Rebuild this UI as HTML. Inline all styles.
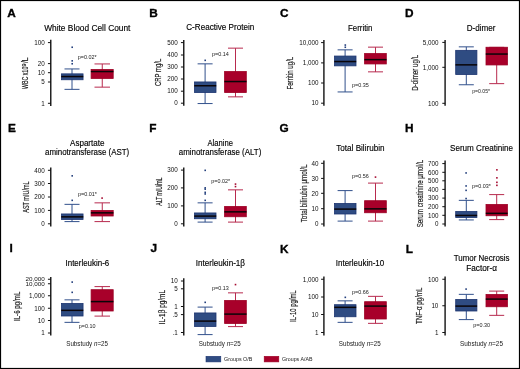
<!DOCTYPE html><html><head><meta charset="utf-8"><style>html,body{margin:0;padding:0;background:#fff}svg{display:block}text{font-family:"Liberation Sans",sans-serif}</style></head><body>
<div style="will-change:transform;width:520px;height:369px"><svg width="520" height="369" viewBox="0 0 520 369">
<rect x="0" y="0" width="520" height="369" fill="#fff"/>
<text x="7.2" y="17" font-size="11.8" font-weight="bold" fill="#000" stroke="#000" stroke-width="0.35">A</text>
<text x="44.2" y="31" font-size="8.8" textLength="86.2" lengthAdjust="spacingAndGlyphs" fill="#000" stroke="#000" stroke-width="0.15">White Blood Cell Count</text>
<line x1="50.75" y1="39.8" x2="50.75" y2="106" stroke="#222" stroke-width="1.5"/>
<line x1="47.95" y1="42.6" x2="50.75" y2="42.6" stroke="#111" stroke-width="1"/>
<text x="34.24" y="44.85" font-size="6.3" textLength="10.51" lengthAdjust="spacingAndGlyphs" fill="#111">100</text>
<line x1="47.95" y1="63.6" x2="50.75" y2="63.6" stroke="#111" stroke-width="1"/>
<text x="37.74" y="65.85" font-size="6.3" textLength="7.01" lengthAdjust="spacingAndGlyphs" fill="#111">20</text>
<line x1="47.95" y1="72.7" x2="50.75" y2="72.7" stroke="#111" stroke-width="1"/>
<text x="37.74" y="74.95" font-size="6.3" textLength="7.01" lengthAdjust="spacingAndGlyphs" fill="#111">10</text>
<line x1="47.95" y1="82" x2="50.75" y2="82" stroke="#111" stroke-width="1"/>
<text x="41.25" y="84.25" font-size="6.3" textLength="3.5" lengthAdjust="spacingAndGlyphs" fill="#111">5</text>
<line x1="47.95" y1="103.3" x2="50.75" y2="103.3" stroke="#111" stroke-width="1"/>
<text x="41.25" y="105.55" font-size="6.3" textLength="3.5" lengthAdjust="spacingAndGlyphs" fill="#111">1</text>
<line x1="72" y1="68.95" x2="72" y2="89.35" stroke="#31508c" stroke-width="1"/>
<line x1="64.5" y1="68.95" x2="79.5" y2="68.95" stroke="#31508c" stroke-width="1"/>
<line x1="64.5" y1="89.35" x2="79.5" y2="89.35" stroke="#31508c" stroke-width="1"/>
<rect x="61.45" y="73.85" width="21.6" height="5.9" fill="#2f4c82" stroke="#1d3570" stroke-width="0.8"/>
<line x1="61.25" y1="76.55" x2="83.25" y2="76.55" stroke="#0a0508" stroke-width="1.5"/>
<rect x="71.4" y="46.45" width="1.6" height="1.6" fill="#233f7c"/>
<rect x="71.4" y="60.05" width="1.6" height="1.6" fill="#233f7c"/>
<rect x="71.4" y="62.95" width="1.6" height="1.6" fill="#233f7c"/>
<line x1="102.25" y1="63.95" x2="102.25" y2="87.15" stroke="#b82a4e" stroke-width="1"/>
<line x1="94.5" y1="63.95" x2="110" y2="63.95" stroke="#b82a4e" stroke-width="1"/>
<line x1="94.5" y1="87.15" x2="110" y2="87.15" stroke="#b82a4e" stroke-width="1"/>
<rect x="91.1" y="69.45" width="22.1" height="9" fill="#a8002a" stroke="#9c0024" stroke-width="0.8"/>
<line x1="90.9" y1="71.55" x2="113.4" y2="71.55" stroke="#0a0508" stroke-width="1.5"/>
<text x="77.7" y="58.7" font-size="5.8" textLength="18.9" lengthAdjust="spacingAndGlyphs" fill="#1a1a1a">p=0.02*</text>
<text transform="translate(28.4,89.1) rotate(-90)" font-size="8.7" textLength="22.5" lengthAdjust="spacingAndGlyphs" fill="#1a1a1a" stroke="#1a1a1a" stroke-width="0.18">WBC x10</text>
<text transform="translate(25.5,66.5) rotate(-90)" font-size="5.4" textLength="3.1" lengthAdjust="spacingAndGlyphs" fill="#1a1a1a" stroke="#1a1a1a" stroke-width="0.18">9</text>
<text transform="translate(28.4,63.1) rotate(-90)" font-size="8.7" textLength="5.7" lengthAdjust="spacingAndGlyphs" fill="#1a1a1a" stroke="#1a1a1a" stroke-width="0.18">/L</text>
<text x="149.3" y="16.8" font-size="11.8" font-weight="bold" fill="#000" stroke="#000" stroke-width="0.35">B</text>
<text x="186.25" y="30.2" font-size="8.8" textLength="68" lengthAdjust="spacingAndGlyphs" fill="#000" stroke="#000" stroke-width="0.15">C-Reactive Protein</text>
<line x1="183.75" y1="40" x2="183.75" y2="105.7" stroke="#222" stroke-width="1.5"/>
<line x1="180.95" y1="42.6" x2="183.75" y2="42.6" stroke="#111" stroke-width="1"/>
<text x="167.24" y="44.85" font-size="6.3" textLength="10.51" lengthAdjust="spacingAndGlyphs" fill="#111">500</text>
<line x1="180.95" y1="55" x2="183.75" y2="55" stroke="#111" stroke-width="1"/>
<text x="167.24" y="57.25" font-size="6.3" textLength="10.51" lengthAdjust="spacingAndGlyphs" fill="#111">400</text>
<line x1="180.95" y1="67" x2="183.75" y2="67" stroke="#111" stroke-width="1"/>
<text x="167.24" y="69.25" font-size="6.3" textLength="10.51" lengthAdjust="spacingAndGlyphs" fill="#111">300</text>
<line x1="180.95" y1="79" x2="183.75" y2="79" stroke="#111" stroke-width="1"/>
<text x="167.24" y="81.25" font-size="6.3" textLength="10.51" lengthAdjust="spacingAndGlyphs" fill="#111">200</text>
<line x1="180.95" y1="91.2" x2="183.75" y2="91.2" stroke="#111" stroke-width="1"/>
<text x="167.24" y="93.45" font-size="6.3" textLength="10.51" lengthAdjust="spacingAndGlyphs" fill="#111">100</text>
<line x1="180.95" y1="103.2" x2="183.75" y2="103.2" stroke="#111" stroke-width="1"/>
<text x="174.25" y="105.45" font-size="6.3" textLength="3.5" lengthAdjust="spacingAndGlyphs" fill="#111">0</text>
<line x1="205.1" y1="63.85" x2="205.1" y2="103.55" stroke="#31508c" stroke-width="1"/>
<line x1="197.6" y1="63.85" x2="212.6" y2="63.85" stroke="#31508c" stroke-width="1"/>
<line x1="197.6" y1="103.55" x2="212.6" y2="103.55" stroke="#31508c" stroke-width="1"/>
<rect x="194.5" y="81.95" width="21.5" height="10.6" fill="#2f4c82" stroke="#1d3570" stroke-width="0.8"/>
<line x1="194.3" y1="85.75" x2="216.2" y2="85.75" stroke="#0a0508" stroke-width="1.5"/>
<rect x="204.4" y="59.55" width="1.6" height="1.6" fill="#233f7c"/>
<line x1="235.5" y1="48.15" x2="235.5" y2="96.85" stroke="#b82a4e" stroke-width="1"/>
<line x1="228" y1="48.15" x2="243" y2="48.15" stroke="#b82a4e" stroke-width="1"/>
<line x1="228" y1="96.85" x2="243" y2="96.85" stroke="#b82a4e" stroke-width="1"/>
<rect x="224.6" y="71.55" width="21.7" height="21" fill="#a8002a" stroke="#9c0024" stroke-width="0.8"/>
<line x1="224.4" y1="81.55" x2="246.5" y2="81.55" stroke="#0a0508" stroke-width="1.5"/>
<text x="212" y="55.5" font-size="5.8" textLength="16.9" lengthAdjust="spacingAndGlyphs" fill="#1a1a1a">p=0.14</text>
<text transform="translate(161.4,86) rotate(-90)" x="0" y="0" font-size="8.7" textLength="27.3" lengthAdjust="spacingAndGlyphs" fill="#1a1a1a" stroke="#1a1a1a" stroke-width="0.18">CRP mg/L</text>
<text x="280" y="17.4" font-size="11.8" font-weight="bold" fill="#000" stroke="#000" stroke-width="0.35">C</text>
<text x="348" y="30.5" font-size="8.8" textLength="24.5" lengthAdjust="spacingAndGlyphs" fill="#000" stroke="#000" stroke-width="0.15">Ferritin</text>
<line x1="323.9" y1="40" x2="323.9" y2="105.7" stroke="#222" stroke-width="1.5"/>
<line x1="321.1" y1="42.6" x2="323.9" y2="42.6" stroke="#111" stroke-width="1"/>
<text x="299.33" y="44.85" font-size="6.3" textLength="19.27" lengthAdjust="spacingAndGlyphs" fill="#111">10,000</text>
<line x1="321.1" y1="62.9" x2="323.9" y2="62.9" stroke="#111" stroke-width="1"/>
<text x="302.83" y="65.15" font-size="6.3" textLength="15.77" lengthAdjust="spacingAndGlyphs" fill="#111">1,000</text>
<line x1="321.1" y1="83" x2="323.9" y2="83" stroke="#111" stroke-width="1"/>
<text x="308.09" y="85.25" font-size="6.3" textLength="10.51" lengthAdjust="spacingAndGlyphs" fill="#111">100</text>
<line x1="321.1" y1="103.2" x2="323.9" y2="103.2" stroke="#111" stroke-width="1"/>
<text x="311.59" y="105.45" font-size="6.3" textLength="7.01" lengthAdjust="spacingAndGlyphs" fill="#111">10</text>
<line x1="345.1" y1="49.85" x2="345.1" y2="91.95" stroke="#31508c" stroke-width="1"/>
<line x1="337.6" y1="49.85" x2="352.6" y2="49.85" stroke="#31508c" stroke-width="1"/>
<line x1="337.6" y1="91.95" x2="352.6" y2="91.95" stroke="#31508c" stroke-width="1"/>
<rect x="334.5" y="56.05" width="21.5" height="9.8" fill="#2f4c82" stroke="#1d3570" stroke-width="0.8"/>
<line x1="334.3" y1="61.55" x2="356.2" y2="61.55" stroke="#0a0508" stroke-width="1.5"/>
<rect x="344.5" y="44.25" width="1.6" height="1.6" fill="#233f7c"/>
<rect x="344.5" y="46.45" width="1.6" height="1.6" fill="#233f7c"/>
<line x1="375.5" y1="47.15" x2="375.5" y2="71.85" stroke="#b82a4e" stroke-width="1"/>
<line x1="368" y1="47.15" x2="383" y2="47.15" stroke="#b82a4e" stroke-width="1"/>
<line x1="368" y1="71.85" x2="383" y2="71.85" stroke="#b82a4e" stroke-width="1"/>
<rect x="364.6" y="53.55" width="21.7" height="10.4" fill="#a8002a" stroke="#9c0024" stroke-width="0.8"/>
<line x1="364.4" y1="59.65" x2="386.5" y2="59.65" stroke="#0a0508" stroke-width="1.5"/>
<text x="352" y="87.1" font-size="5.8" textLength="16.8" lengthAdjust="spacingAndGlyphs" fill="#1a1a1a">p=0.35</text>
<text transform="translate(293.1,89.6) rotate(-90)" x="0" y="0" font-size="8.7" textLength="32.9" lengthAdjust="spacingAndGlyphs" fill="#1a1a1a" stroke="#1a1a1a" stroke-width="0.18">Ferritin ug/L</text>
<text x="405" y="17.4" font-size="11.8" font-weight="bold" fill="#000" stroke="#000" stroke-width="0.35">D</text>
<text x="466.75" y="30.5" font-size="8.8" textLength="28.75" lengthAdjust="spacingAndGlyphs" fill="#000" stroke="#000" stroke-width="0.15">D-dimer</text>
<line x1="445.1" y1="40" x2="445.1" y2="105.7" stroke="#222" stroke-width="1.5"/>
<line x1="442.3" y1="42.4" x2="445.1" y2="42.4" stroke="#111" stroke-width="1"/>
<text x="422.63" y="44.65" font-size="6.3" textLength="15.77" lengthAdjust="spacingAndGlyphs" fill="#111">5,000</text>
<line x1="442.3" y1="67.3" x2="445.1" y2="67.3" stroke="#111" stroke-width="1"/>
<text x="422.63" y="69.55" font-size="6.3" textLength="15.77" lengthAdjust="spacingAndGlyphs" fill="#111">1,000</text>
<line x1="442.3" y1="103.3" x2="445.1" y2="103.3" stroke="#111" stroke-width="1"/>
<text x="427.89" y="105.55" font-size="6.3" textLength="10.51" lengthAdjust="spacingAndGlyphs" fill="#111">100</text>
<line x1="466.3" y1="46.85" x2="466.3" y2="84.75" stroke="#31508c" stroke-width="1"/>
<line x1="458.8" y1="46.85" x2="473.8" y2="46.85" stroke="#31508c" stroke-width="1"/>
<line x1="458.8" y1="84.75" x2="473.8" y2="84.75" stroke="#31508c" stroke-width="1"/>
<rect x="455.7" y="50.35" width="21.2" height="24.2" fill="#2f4c82" stroke="#1d3570" stroke-width="0.8"/>
<line x1="455.5" y1="64.85" x2="477.1" y2="64.85" stroke="#0a0508" stroke-width="1.5"/>
<line x1="496.7" y1="47.35" x2="496.7" y2="83.65" stroke="#b82a4e" stroke-width="1"/>
<line x1="489.2" y1="47.35" x2="504.2" y2="47.35" stroke="#b82a4e" stroke-width="1"/>
<line x1="489.2" y1="83.65" x2="504.2" y2="83.65" stroke="#b82a4e" stroke-width="1"/>
<rect x="486" y="47.25" width="21.4" height="17.7" fill="#a8002a" stroke="#9c0024" stroke-width="0.8"/>
<line x1="485.8" y1="54.05" x2="507.6" y2="54.05" stroke="#0a0508" stroke-width="1.5"/>
<text x="472.2" y="92.9" font-size="5.8" textLength="17.8" lengthAdjust="spacingAndGlyphs" fill="#1a1a1a">p=0.05*</text>
<text transform="translate(418.3,90.7) rotate(-90)" x="0" y="0" font-size="8.7" textLength="35.9" lengthAdjust="spacingAndGlyphs" fill="#1a1a1a" stroke="#1a1a1a" stroke-width="0.18">D-dimer ug/L</text>
<text x="8" y="131.8" font-size="11.8" font-weight="bold" fill="#000" stroke="#000" stroke-width="0.35">E</text>
<text x="70" y="145.8" font-size="8.8" textLength="34.5" lengthAdjust="spacingAndGlyphs" fill="#000" stroke="#000" stroke-width="0.15">Aspartate</text>
<text x="45" y="155.1" font-size="8.8" textLength="84.25" lengthAdjust="spacingAndGlyphs" fill="#000" stroke="#000" stroke-width="0.15">aminotransferase (AST)</text>
<line x1="50.75" y1="167.5" x2="50.75" y2="226.6" stroke="#222" stroke-width="1.5"/>
<line x1="47.95" y1="170.3" x2="50.75" y2="170.3" stroke="#111" stroke-width="1"/>
<text x="34.24" y="172.55" font-size="6.3" textLength="10.51" lengthAdjust="spacingAndGlyphs" fill="#111">400</text>
<line x1="47.95" y1="183.5" x2="50.75" y2="183.5" stroke="#111" stroke-width="1"/>
<text x="34.24" y="185.75" font-size="6.3" textLength="10.51" lengthAdjust="spacingAndGlyphs" fill="#111">300</text>
<line x1="47.95" y1="197" x2="50.75" y2="197" stroke="#111" stroke-width="1"/>
<text x="34.24" y="199.25" font-size="6.3" textLength="10.51" lengthAdjust="spacingAndGlyphs" fill="#111">200</text>
<line x1="47.95" y1="210.4" x2="50.75" y2="210.4" stroke="#111" stroke-width="1"/>
<text x="34.24" y="212.65" font-size="6.3" textLength="10.51" lengthAdjust="spacingAndGlyphs" fill="#111">100</text>
<line x1="47.95" y1="223.8" x2="50.75" y2="223.8" stroke="#111" stroke-width="1"/>
<text x="41.25" y="226.05" font-size="6.3" textLength="3.5" lengthAdjust="spacingAndGlyphs" fill="#111">0</text>
<line x1="72" y1="204.35" x2="72" y2="221.6" stroke="#31508c" stroke-width="1"/>
<line x1="64.5" y1="204.35" x2="79.5" y2="204.35" stroke="#31508c" stroke-width="1"/>
<line x1="64.5" y1="221.6" x2="79.5" y2="221.6" stroke="#31508c" stroke-width="1"/>
<rect x="61.45" y="213.95" width="21.6" height="5.55" fill="#2f4c82" stroke="#1d3570" stroke-width="0.8"/>
<line x1="61.25" y1="216.85" x2="83.25" y2="216.85" stroke="#0a0508" stroke-width="1.5"/>
<rect x="71.4" y="175.05" width="1.6" height="1.6" fill="#233f7c"/>
<rect x="71.4" y="199.55" width="1.6" height="1.6" fill="#233f7c"/>
<line x1="102.25" y1="202.85" x2="102.25" y2="221.6" stroke="#b82a4e" stroke-width="1"/>
<line x1="94.5" y1="202.85" x2="110" y2="202.85" stroke="#b82a4e" stroke-width="1"/>
<line x1="94.5" y1="221.6" x2="110" y2="221.6" stroke="#b82a4e" stroke-width="1"/>
<rect x="91.1" y="210.45" width="22.1" height="5.55" fill="#a8002a" stroke="#9c0024" stroke-width="0.8"/>
<line x1="90.9" y1="212.85" x2="113.4" y2="212.85" stroke="#0a0508" stroke-width="1.5"/>
<rect x="101.3" y="197.3" width="1.6" height="1.6" fill="#a50a30"/>
<text x="78" y="195.95" font-size="5.8" textLength="19" lengthAdjust="spacingAndGlyphs" fill="#1a1a1a">p=0.01*</text>
<text transform="translate(29,212.7) rotate(-90)" x="0" y="0" font-size="8.7" textLength="31.2" lengthAdjust="spacingAndGlyphs" fill="#1a1a1a" stroke="#1a1a1a" stroke-width="0.18">AST mIU/mL</text>
<text x="149.3" y="131.8" font-size="11.8" font-weight="bold" fill="#000" stroke="#000" stroke-width="0.35">F</text>
<text x="207.5" y="145.8" font-size="8.8" textLength="25.5" lengthAdjust="spacingAndGlyphs" fill="#000" stroke="#000" stroke-width="0.15">Alanine</text>
<text x="178.75" y="155.1" font-size="8.8" textLength="82.55" lengthAdjust="spacingAndGlyphs" fill="#000" stroke="#000" stroke-width="0.15">aminotransferase (ALT)</text>
<line x1="183.75" y1="167.5" x2="183.75" y2="226.6" stroke="#222" stroke-width="1.5"/>
<line x1="180.95" y1="170.1" x2="183.75" y2="170.1" stroke="#111" stroke-width="1"/>
<text x="167.24" y="172.35" font-size="6.3" textLength="10.51" lengthAdjust="spacingAndGlyphs" fill="#111">300</text>
<line x1="180.95" y1="187.9" x2="183.75" y2="187.9" stroke="#111" stroke-width="1"/>
<text x="167.24" y="190.15" font-size="6.3" textLength="10.51" lengthAdjust="spacingAndGlyphs" fill="#111">200</text>
<line x1="180.95" y1="205.9" x2="183.75" y2="205.9" stroke="#111" stroke-width="1"/>
<text x="167.24" y="208.15" font-size="6.3" textLength="10.51" lengthAdjust="spacingAndGlyphs" fill="#111">100</text>
<line x1="180.95" y1="223.8" x2="183.75" y2="223.8" stroke="#111" stroke-width="1"/>
<text x="174.25" y="226.05" font-size="6.3" textLength="3.5" lengthAdjust="spacingAndGlyphs" fill="#111">0</text>
<line x1="205.1" y1="202.85" x2="205.1" y2="222.1" stroke="#31508c" stroke-width="1"/>
<line x1="197.6" y1="202.85" x2="212.6" y2="202.85" stroke="#31508c" stroke-width="1"/>
<line x1="197.6" y1="222.1" x2="212.6" y2="222.1" stroke="#31508c" stroke-width="1"/>
<rect x="194.5" y="212.95" width="21.5" height="5.8" fill="#2f4c82" stroke="#1d3570" stroke-width="0.8"/>
<line x1="194.3" y1="216.1" x2="216.2" y2="216.1" stroke="#0a0508" stroke-width="1.5"/>
<rect x="204.4" y="169.55" width="1.6" height="1.6" fill="#233f7c"/>
<rect x="204.4" y="187.05" width="1.6" height="1.6" fill="#233f7c"/>
<rect x="204.4" y="188.35" width="1.6" height="1.6" fill="#233f7c"/>
<rect x="204.4" y="191.55" width="1.6" height="1.6" fill="#233f7c"/>
<rect x="204.4" y="193.15" width="1.6" height="1.6" fill="#233f7c"/>
<rect x="204.4" y="199.55" width="1.6" height="1.6" fill="#233f7c"/>
<line x1="235.5" y1="189.85" x2="235.5" y2="222.1" stroke="#b82a4e" stroke-width="1"/>
<line x1="228" y1="189.85" x2="243" y2="189.85" stroke="#b82a4e" stroke-width="1"/>
<line x1="228" y1="222.1" x2="243" y2="222.1" stroke="#b82a4e" stroke-width="1"/>
<rect x="224.6" y="206.45" width="21.7" height="10.3" fill="#a8002a" stroke="#9c0024" stroke-width="0.8"/>
<line x1="224.4" y1="211.85" x2="246.5" y2="211.85" stroke="#0a0508" stroke-width="1.5"/>
<rect x="234.7" y="183.3" width="1.6" height="1.6" fill="#a50a30"/>
<rect x="234.7" y="185.8" width="1.6" height="1.6" fill="#a50a30"/>
<text x="211.25" y="183.2" font-size="5.8" textLength="18.75" lengthAdjust="spacingAndGlyphs" fill="#1a1a1a">p=0.02*</text>
<text transform="translate(162.1,205.7) rotate(-90)" x="0" y="0" font-size="8.7" textLength="28.1" lengthAdjust="spacingAndGlyphs" fill="#1a1a1a" stroke="#1a1a1a" stroke-width="0.18">ALT mIU/mL</text>
<text x="279.6" y="132.2" font-size="11.8" font-weight="bold" fill="#000" stroke="#000" stroke-width="0.35">G</text>
<text x="336.2" y="150.6" font-size="8.8" textLength="48.4" lengthAdjust="spacingAndGlyphs" fill="#000" stroke="#000" stroke-width="0.15">Total Bilirubin</text>
<line x1="323.9" y1="160.5" x2="323.9" y2="226.4" stroke="#222" stroke-width="1.5"/>
<line x1="321.1" y1="163.3" x2="323.9" y2="163.3" stroke="#111" stroke-width="1"/>
<text x="311.59" y="165.55" font-size="6.3" textLength="7.01" lengthAdjust="spacingAndGlyphs" fill="#111">40</text>
<line x1="321.1" y1="178.4" x2="323.9" y2="178.4" stroke="#111" stroke-width="1"/>
<text x="311.59" y="180.65" font-size="6.3" textLength="7.01" lengthAdjust="spacingAndGlyphs" fill="#111">30</text>
<line x1="321.1" y1="193.3" x2="323.9" y2="193.3" stroke="#111" stroke-width="1"/>
<text x="311.59" y="195.55" font-size="6.3" textLength="7.01" lengthAdjust="spacingAndGlyphs" fill="#111">20</text>
<line x1="321.1" y1="208.7" x2="323.9" y2="208.7" stroke="#111" stroke-width="1"/>
<text x="311.59" y="210.95" font-size="6.3" textLength="7.01" lengthAdjust="spacingAndGlyphs" fill="#111">10</text>
<line x1="321.1" y1="224" x2="323.9" y2="224" stroke="#111" stroke-width="1"/>
<text x="315.1" y="226.25" font-size="6.3" textLength="3.5" lengthAdjust="spacingAndGlyphs" fill="#111">0</text>
<line x1="345.1" y1="190.6" x2="345.1" y2="221.1" stroke="#31508c" stroke-width="1"/>
<line x1="337.6" y1="190.6" x2="352.6" y2="190.6" stroke="#31508c" stroke-width="1"/>
<line x1="337.6" y1="221.1" x2="352.6" y2="221.1" stroke="#31508c" stroke-width="1"/>
<rect x="334.5" y="203.45" width="21.5" height="10.55" fill="#2f4c82" stroke="#1d3570" stroke-width="0.8"/>
<line x1="334.3" y1="209.1" x2="356.2" y2="209.1" stroke="#0a0508" stroke-width="1.5"/>
<line x1="375.5" y1="183.1" x2="375.5" y2="221.1" stroke="#b82a4e" stroke-width="1"/>
<line x1="368" y1="183.1" x2="383" y2="183.1" stroke="#b82a4e" stroke-width="1"/>
<line x1="368" y1="221.1" x2="383" y2="221.1" stroke="#b82a4e" stroke-width="1"/>
<rect x="364.6" y="200.7" width="21.7" height="12.05" fill="#a8002a" stroke="#9c0024" stroke-width="0.8"/>
<line x1="364.4" y1="208.85" x2="386.5" y2="208.85" stroke="#0a0508" stroke-width="1.5"/>
<rect x="374.7" y="176.3" width="1.6" height="1.6" fill="#a50a30"/>
<text x="352" y="178.2" font-size="5.8" textLength="16.75" lengthAdjust="spacingAndGlyphs" fill="#1a1a1a">p=0.56</text>
<text transform="translate(306.5,222.3) rotate(-90)" x="0" y="0" font-size="8.7" textLength="57.8" lengthAdjust="spacingAndGlyphs" fill="#1a1a1a" stroke="#1a1a1a" stroke-width="0.18">Total bilirubin μmol/L</text>
<text x="405" y="132" font-size="11.8" font-weight="bold" fill="#000" stroke="#000" stroke-width="0.35">H</text>
<text x="450" y="150.7" font-size="8.8" textLength="63" lengthAdjust="spacingAndGlyphs" fill="#000" stroke="#000" stroke-width="0.15">Serum Creatinine</text>
<line x1="445.1" y1="160.6" x2="445.1" y2="226.4" stroke="#222" stroke-width="1.5"/>
<line x1="442.3" y1="163.6" x2="445.1" y2="163.6" stroke="#111" stroke-width="1"/>
<text x="427.89" y="165.85" font-size="6.3" textLength="10.51" lengthAdjust="spacingAndGlyphs" fill="#111">700</text>
<line x1="442.3" y1="172.3" x2="445.1" y2="172.3" stroke="#111" stroke-width="1"/>
<text x="427.89" y="174.55" font-size="6.3" textLength="10.51" lengthAdjust="spacingAndGlyphs" fill="#111">600</text>
<line x1="442.3" y1="180.8" x2="445.1" y2="180.8" stroke="#111" stroke-width="1"/>
<text x="427.89" y="183.05" font-size="6.3" textLength="10.51" lengthAdjust="spacingAndGlyphs" fill="#111">500</text>
<line x1="442.3" y1="189.4" x2="445.1" y2="189.4" stroke="#111" stroke-width="1"/>
<text x="427.89" y="191.65" font-size="6.3" textLength="10.51" lengthAdjust="spacingAndGlyphs" fill="#111">400</text>
<line x1="442.3" y1="198.1" x2="445.1" y2="198.1" stroke="#111" stroke-width="1"/>
<text x="427.89" y="200.35" font-size="6.3" textLength="10.51" lengthAdjust="spacingAndGlyphs" fill="#111">300</text>
<line x1="442.3" y1="206.7" x2="445.1" y2="206.7" stroke="#111" stroke-width="1"/>
<text x="427.89" y="208.95" font-size="6.3" textLength="10.51" lengthAdjust="spacingAndGlyphs" fill="#111">200</text>
<line x1="442.3" y1="215.3" x2="445.1" y2="215.3" stroke="#111" stroke-width="1"/>
<text x="427.89" y="217.55" font-size="6.3" textLength="10.51" lengthAdjust="spacingAndGlyphs" fill="#111">100</text>
<line x1="442.3" y1="224" x2="445.1" y2="224" stroke="#111" stroke-width="1"/>
<text x="434.9" y="226.25" font-size="6.3" textLength="3.5" lengthAdjust="spacingAndGlyphs" fill="#111">0</text>
<line x1="466.3" y1="200.35" x2="466.3" y2="219.95" stroke="#31508c" stroke-width="1"/>
<line x1="458.8" y1="200.35" x2="473.8" y2="200.35" stroke="#31508c" stroke-width="1"/>
<line x1="458.8" y1="219.95" x2="473.8" y2="219.95" stroke="#31508c" stroke-width="1"/>
<rect x="455.7" y="211.45" width="21.2" height="6.1" fill="#2f4c82" stroke="#1d3570" stroke-width="0.8"/>
<line x1="455.5" y1="215.45" x2="477.1" y2="215.45" stroke="#0a0508" stroke-width="1.5"/>
<rect x="465.3" y="172.15" width="1.6" height="1.6" fill="#233f7c"/>
<rect x="465.3" y="185.15" width="1.6" height="1.6" fill="#233f7c"/>
<rect x="465.3" y="189.55" width="1.6" height="1.6" fill="#233f7c"/>
<rect x="465.3" y="197.75" width="1.6" height="1.6" fill="#233f7c"/>
<line x1="496.7" y1="194.6" x2="496.7" y2="219.6" stroke="#b82a4e" stroke-width="1"/>
<line x1="489.2" y1="194.6" x2="504.2" y2="194.6" stroke="#b82a4e" stroke-width="1"/>
<line x1="489.2" y1="219.6" x2="504.2" y2="219.6" stroke="#b82a4e" stroke-width="1"/>
<rect x="486" y="204.45" width="21.4" height="11.3" fill="#a8002a" stroke="#9c0024" stroke-width="0.8"/>
<line x1="485.8" y1="213.35" x2="507.6" y2="213.35" stroke="#0a0508" stroke-width="1.5"/>
<rect x="496.1" y="169.05" width="1.6" height="1.6" fill="#a50a30"/>
<rect x="496.1" y="177.05" width="1.6" height="1.6" fill="#a50a30"/>
<rect x="496.1" y="181.55" width="1.6" height="1.6" fill="#a50a30"/>
<rect x="496.1" y="184.55" width="1.6" height="1.6" fill="#a50a30"/>
<text x="472" y="187.95" font-size="5.8" textLength="18.75" lengthAdjust="spacingAndGlyphs" fill="#1a1a1a">p=0.03*</text>
<text transform="translate(423.3,227.3) rotate(-90)" x="0" y="0" font-size="8.7" textLength="67.4" lengthAdjust="spacingAndGlyphs" fill="#1a1a1a" stroke="#1a1a1a" stroke-width="0.18">Serum creatinine μmol/L</text>
<text x="9.6" y="252.1" font-size="11.8" font-weight="bold" fill="#000" stroke="#000" stroke-width="0.35">I</text>
<text x="65.5" y="266.2" font-size="8.8" textLength="43.75" lengthAdjust="spacingAndGlyphs" fill="#000" stroke="#000" stroke-width="0.15">Interleukin-6</text>
<line x1="50.75" y1="277" x2="50.75" y2="335.5" stroke="#222" stroke-width="1.5"/>
<line x1="47.95" y1="279.25" x2="50.75" y2="279.25" stroke="#111" stroke-width="1"/>
<text x="25.48" y="280.58" font-size="5.7" textLength="19.27" lengthAdjust="spacingAndGlyphs" fill="#111">20,000</text>
<line x1="47.95" y1="283.75" x2="50.75" y2="283.75" stroke="#111" stroke-width="1"/>
<text x="25.48" y="286.38" font-size="5.7" textLength="19.27" lengthAdjust="spacingAndGlyphs" fill="#111">10,000</text>
<line x1="47.95" y1="295.75" x2="50.75" y2="295.75" stroke="#111" stroke-width="1"/>
<text x="28.98" y="298" font-size="6.3" textLength="15.77" lengthAdjust="spacingAndGlyphs" fill="#111">1,000</text>
<line x1="47.95" y1="308.25" x2="50.75" y2="308.25" stroke="#111" stroke-width="1"/>
<text x="34.24" y="310.5" font-size="6.3" textLength="10.51" lengthAdjust="spacingAndGlyphs" fill="#111">100</text>
<line x1="47.95" y1="320.5" x2="50.75" y2="320.5" stroke="#111" stroke-width="1"/>
<text x="37.74" y="322.75" font-size="6.3" textLength="7.01" lengthAdjust="spacingAndGlyphs" fill="#111">10</text>
<line x1="47.95" y1="333" x2="50.75" y2="333" stroke="#111" stroke-width="1"/>
<text x="41.25" y="335.25" font-size="6.3" textLength="3.5" lengthAdjust="spacingAndGlyphs" fill="#111">1</text>
<line x1="72" y1="299.85" x2="72" y2="322.35" stroke="#31508c" stroke-width="1"/>
<line x1="64.5" y1="299.85" x2="79.5" y2="299.85" stroke="#31508c" stroke-width="1"/>
<line x1="64.5" y1="322.35" x2="79.5" y2="322.35" stroke="#31508c" stroke-width="1"/>
<rect x="61.45" y="303.45" width="21.6" height="12.55" fill="#2f4c82" stroke="#1d3570" stroke-width="0.8"/>
<line x1="61.25" y1="310.35" x2="83.25" y2="310.35" stroke="#0a0508" stroke-width="1.5"/>
<rect x="71.4" y="281.3" width="1.6" height="1.6" fill="#233f7c"/>
<rect x="71.4" y="291.55" width="1.6" height="1.6" fill="#233f7c"/>
<line x1="102.25" y1="286.6" x2="102.25" y2="316.1" stroke="#b82a4e" stroke-width="1"/>
<line x1="94.5" y1="286.6" x2="110" y2="286.6" stroke="#b82a4e" stroke-width="1"/>
<line x1="94.5" y1="316.1" x2="110" y2="316.1" stroke="#b82a4e" stroke-width="1"/>
<rect x="91.1" y="289.7" width="22.1" height="21.3" fill="#a8002a" stroke="#9c0024" stroke-width="0.8"/>
<line x1="90.9" y1="301.6" x2="113.4" y2="301.6" stroke="#0a0508" stroke-width="1.5"/>
<text x="78.75" y="328.45" font-size="5.8" textLength="16.75" lengthAdjust="spacingAndGlyphs" fill="#1a1a1a">p=0.10</text>
<text transform="translate(19.9,321) rotate(-90)" x="0" y="0" font-size="8.7" textLength="29.3" lengthAdjust="spacingAndGlyphs" fill="#1a1a1a" stroke="#1a1a1a" stroke-width="0.18">IL-6 pg/mL</text>
<text x="66.25" y="346.4" font-size="6.6" textLength="41.75" lengthAdjust="spacingAndGlyphs" fill="#1a1a1a">Substudy <tspan font-style="italic">n</tspan>=25</text>
<text x="150.4" y="252.1" font-size="11.8" font-weight="bold" fill="#000" stroke="#000" stroke-width="0.35">J</text>
<text x="195.75" y="266.2" font-size="8.8" textLength="49.25" lengthAdjust="spacingAndGlyphs" fill="#000" stroke="#000" stroke-width="0.15">Interleukin-1β</text>
<line x1="183.75" y1="278.3" x2="183.75" y2="335.5" stroke="#222" stroke-width="1.5"/>
<line x1="180.95" y1="281" x2="183.75" y2="281" stroke="#111" stroke-width="1"/>
<text x="170.74" y="283.25" font-size="6.3" textLength="7.01" lengthAdjust="spacingAndGlyphs" fill="#111">10</text>
<line x1="180.95" y1="288.8" x2="183.75" y2="288.8" stroke="#111" stroke-width="1"/>
<text x="174.25" y="291.05" font-size="6.3" textLength="3.5" lengthAdjust="spacingAndGlyphs" fill="#111">5</text>
<line x1="180.95" y1="306.5" x2="183.75" y2="306.5" stroke="#111" stroke-width="1"/>
<text x="174.25" y="308.75" font-size="6.3" textLength="3.5" lengthAdjust="spacingAndGlyphs" fill="#111">1</text>
<line x1="180.95" y1="314.6" x2="183.75" y2="314.6" stroke="#111" stroke-width="1"/>
<text x="172.5" y="316.85" font-size="6.3" textLength="5.25" lengthAdjust="spacingAndGlyphs" fill="#111">.5</text>
<line x1="180.95" y1="332.5" x2="183.75" y2="332.5" stroke="#111" stroke-width="1"/>
<text x="172.5" y="334.75" font-size="6.3" textLength="5.25" lengthAdjust="spacingAndGlyphs" fill="#111">.1</text>
<line x1="205.1" y1="307.1" x2="205.1" y2="334.6" stroke="#31508c" stroke-width="1"/>
<line x1="197.6" y1="307.1" x2="212.6" y2="307.1" stroke="#31508c" stroke-width="1"/>
<line x1="197.6" y1="334.6" x2="212.6" y2="334.6" stroke="#31508c" stroke-width="1"/>
<rect x="194.5" y="312.95" width="21.5" height="13.55" fill="#2f4c82" stroke="#1d3570" stroke-width="0.8"/>
<line x1="194.3" y1="321.1" x2="216.2" y2="321.1" stroke="#0a0508" stroke-width="1.5"/>
<rect x="204.4" y="301.55" width="1.6" height="1.6" fill="#233f7c"/>
<line x1="235.5" y1="292.85" x2="235.5" y2="326.6" stroke="#b82a4e" stroke-width="1"/>
<line x1="228" y1="292.85" x2="243" y2="292.85" stroke="#b82a4e" stroke-width="1"/>
<line x1="228" y1="326.6" x2="243" y2="326.6" stroke="#b82a4e" stroke-width="1"/>
<rect x="224.6" y="300.45" width="21.7" height="23.05" fill="#a8002a" stroke="#9c0024" stroke-width="0.8"/>
<line x1="224.4" y1="314.1" x2="246.5" y2="314.1" stroke="#0a0508" stroke-width="1.5"/>
<rect x="234.7" y="283.8" width="1.6" height="1.6" fill="#a50a30"/>
<text x="212" y="289.7" font-size="5.8" textLength="16.75" lengthAdjust="spacingAndGlyphs" fill="#1a1a1a">p=0.13</text>
<text transform="translate(164.8,324.4) rotate(-90)" x="0" y="0" font-size="8.7" textLength="34.4" lengthAdjust="spacingAndGlyphs" fill="#1a1a1a" stroke="#1a1a1a" stroke-width="0.18">IL-1β pg/mL</text>
<text x="198.75" y="346.4" font-size="6.6" textLength="42" lengthAdjust="spacingAndGlyphs" fill="#1a1a1a">Substudy <tspan font-style="italic">n</tspan>=25</text>
<text x="280" y="253" font-size="11.8" font-weight="bold" fill="#000" stroke="#000" stroke-width="0.35">K</text>
<text x="335.75" y="266.2" font-size="8.8" textLength="48.5" lengthAdjust="spacingAndGlyphs" fill="#000" stroke="#000" stroke-width="0.15">Interleukin-10</text>
<line x1="323.9" y1="276.5" x2="323.9" y2="335.5" stroke="#222" stroke-width="1.5"/>
<line x1="321.1" y1="279.25" x2="323.9" y2="279.25" stroke="#111" stroke-width="1"/>
<text x="302.83" y="281.5" font-size="6.3" textLength="15.77" lengthAdjust="spacingAndGlyphs" fill="#111">1,000</text>
<line x1="321.1" y1="297" x2="323.9" y2="297" stroke="#111" stroke-width="1"/>
<text x="308.09" y="299.25" font-size="6.3" textLength="10.51" lengthAdjust="spacingAndGlyphs" fill="#111">100</text>
<line x1="321.1" y1="314.5" x2="323.9" y2="314.5" stroke="#111" stroke-width="1"/>
<text x="311.59" y="316.75" font-size="6.3" textLength="7.01" lengthAdjust="spacingAndGlyphs" fill="#111">10</text>
<line x1="321.1" y1="332.5" x2="323.9" y2="332.5" stroke="#111" stroke-width="1"/>
<text x="315.1" y="334.75" font-size="6.3" textLength="3.5" lengthAdjust="spacingAndGlyphs" fill="#111">1</text>
<line x1="345.1" y1="300.85" x2="345.1" y2="322.35" stroke="#31508c" stroke-width="1"/>
<line x1="337.6" y1="300.85" x2="352.6" y2="300.85" stroke="#31508c" stroke-width="1"/>
<line x1="337.6" y1="322.35" x2="352.6" y2="322.35" stroke="#31508c" stroke-width="1"/>
<rect x="334.5" y="304.7" width="21.5" height="12.05" fill="#2f4c82" stroke="#1d3570" stroke-width="0.8"/>
<line x1="334.3" y1="307.35" x2="356.2" y2="307.35" stroke="#0a0508" stroke-width="1.5"/>
<rect x="344.5" y="296.55" width="1.6" height="1.6" fill="#233f7c"/>
<line x1="375.5" y1="296.35" x2="375.5" y2="323.35" stroke="#b82a4e" stroke-width="1"/>
<line x1="368" y1="296.35" x2="383" y2="296.35" stroke="#b82a4e" stroke-width="1"/>
<line x1="368" y1="323.35" x2="383" y2="323.35" stroke="#b82a4e" stroke-width="1"/>
<rect x="364.6" y="301.7" width="21.7" height="17.3" fill="#a8002a" stroke="#9c0024" stroke-width="0.8"/>
<line x1="364.4" y1="306.1" x2="386.5" y2="306.1" stroke="#0a0508" stroke-width="1.5"/>
<text x="352" y="294.2" font-size="5.8" textLength="16.75" lengthAdjust="spacingAndGlyphs" fill="#1a1a1a">p=0.66</text>
<text transform="translate(296.3,321.9) rotate(-90)" x="0" y="0" font-size="8.7" textLength="31.5" lengthAdjust="spacingAndGlyphs" fill="#1a1a1a" stroke="#1a1a1a" stroke-width="0.18">IL-10 pg/mL</text>
<text x="338.75" y="346.4" font-size="6.6" textLength="42" lengthAdjust="spacingAndGlyphs" fill="#1a1a1a">Substudy <tspan font-style="italic">n</tspan>=25</text>
<text x="405.8" y="253" font-size="11.8" font-weight="bold" fill="#000" stroke="#000" stroke-width="0.35">L</text>
<text x="453.75" y="260.5" font-size="8.8" textLength="55.75" lengthAdjust="spacingAndGlyphs" fill="#000" stroke="#000" stroke-width="0.15">Tumor Necrosis</text>
<text x="466.25" y="270.8" font-size="8.8" textLength="30.75" lengthAdjust="spacingAndGlyphs" fill="#000" stroke="#000" stroke-width="0.15">Factor-α</text>
<line x1="445.1" y1="276.5" x2="445.1" y2="335.5" stroke="#222" stroke-width="1.5"/>
<line x1="442.3" y1="279.25" x2="445.1" y2="279.25" stroke="#111" stroke-width="1"/>
<text x="427.89" y="281.5" font-size="6.3" textLength="10.51" lengthAdjust="spacingAndGlyphs" fill="#111">100</text>
<line x1="442.3" y1="305.75" x2="445.1" y2="305.75" stroke="#111" stroke-width="1"/>
<text x="431.39" y="308" font-size="6.3" textLength="7.01" lengthAdjust="spacingAndGlyphs" fill="#111">10</text>
<line x1="442.3" y1="332.5" x2="445.1" y2="332.5" stroke="#111" stroke-width="1"/>
<text x="434.9" y="334.75" font-size="6.3" textLength="3.5" lengthAdjust="spacingAndGlyphs" fill="#111">1</text>
<line x1="466.3" y1="294.35" x2="466.3" y2="319.6" stroke="#31508c" stroke-width="1"/>
<line x1="458.8" y1="294.35" x2="473.8" y2="294.35" stroke="#31508c" stroke-width="1"/>
<line x1="458.8" y1="319.6" x2="473.8" y2="319.6" stroke="#31508c" stroke-width="1"/>
<rect x="455.7" y="299.45" width="21.2" height="11.55" fill="#2f4c82" stroke="#1d3570" stroke-width="0.8"/>
<line x1="455.5" y1="306.1" x2="477.1" y2="306.1" stroke="#0a0508" stroke-width="1.5"/>
<rect x="465.3" y="288.3" width="1.6" height="1.6" fill="#233f7c"/>
<line x1="496.7" y1="291.1" x2="496.7" y2="315.35" stroke="#b82a4e" stroke-width="1"/>
<line x1="489.2" y1="291.1" x2="504.2" y2="291.1" stroke="#b82a4e" stroke-width="1"/>
<line x1="489.2" y1="315.35" x2="504.2" y2="315.35" stroke="#b82a4e" stroke-width="1"/>
<rect x="486" y="294.45" width="21.4" height="12.3" fill="#a8002a" stroke="#9c0024" stroke-width="0.8"/>
<line x1="485.8" y1="299.1" x2="507.6" y2="299.1" stroke="#0a0508" stroke-width="1.5"/>
<text x="473.25" y="326.7" font-size="5.8" textLength="16.75" lengthAdjust="spacingAndGlyphs" fill="#1a1a1a">p=0.30</text>
<text transform="translate(421.6,324) rotate(-90)" x="0" y="0" font-size="8.7" textLength="36.5" lengthAdjust="spacingAndGlyphs" fill="#1a1a1a" stroke="#1a1a1a" stroke-width="0.18">TNF-α pg/mL</text>
<text x="460" y="346.4" font-size="6.6" textLength="43" lengthAdjust="spacingAndGlyphs" fill="#1a1a1a">Substudy <tspan font-style="italic">n</tspan>=25</text>
<rect x="206" y="356.3" width="14.8" height="5.6" fill="#2f4c82" stroke="#1d3570" stroke-width="0.6"/>
<text x="224" y="361.3" font-size="6" textLength="28.3" lengthAdjust="spacingAndGlyphs" fill="#1a1a1a">Groups O/B</text>
<rect x="264.2" y="356.3" width="14.6" height="5.6" fill="#a8002a" stroke="#9c0024" stroke-width="0.6"/>
<text x="282" y="361.3" font-size="6" textLength="30.4" lengthAdjust="spacingAndGlyphs" fill="#1a1a1a">Groups A/AB</text>
<rect x="0.5" y="0.5" width="519" height="368" fill="none" stroke="#000" stroke-width="1.2"/>
</svg></div></body></html>
